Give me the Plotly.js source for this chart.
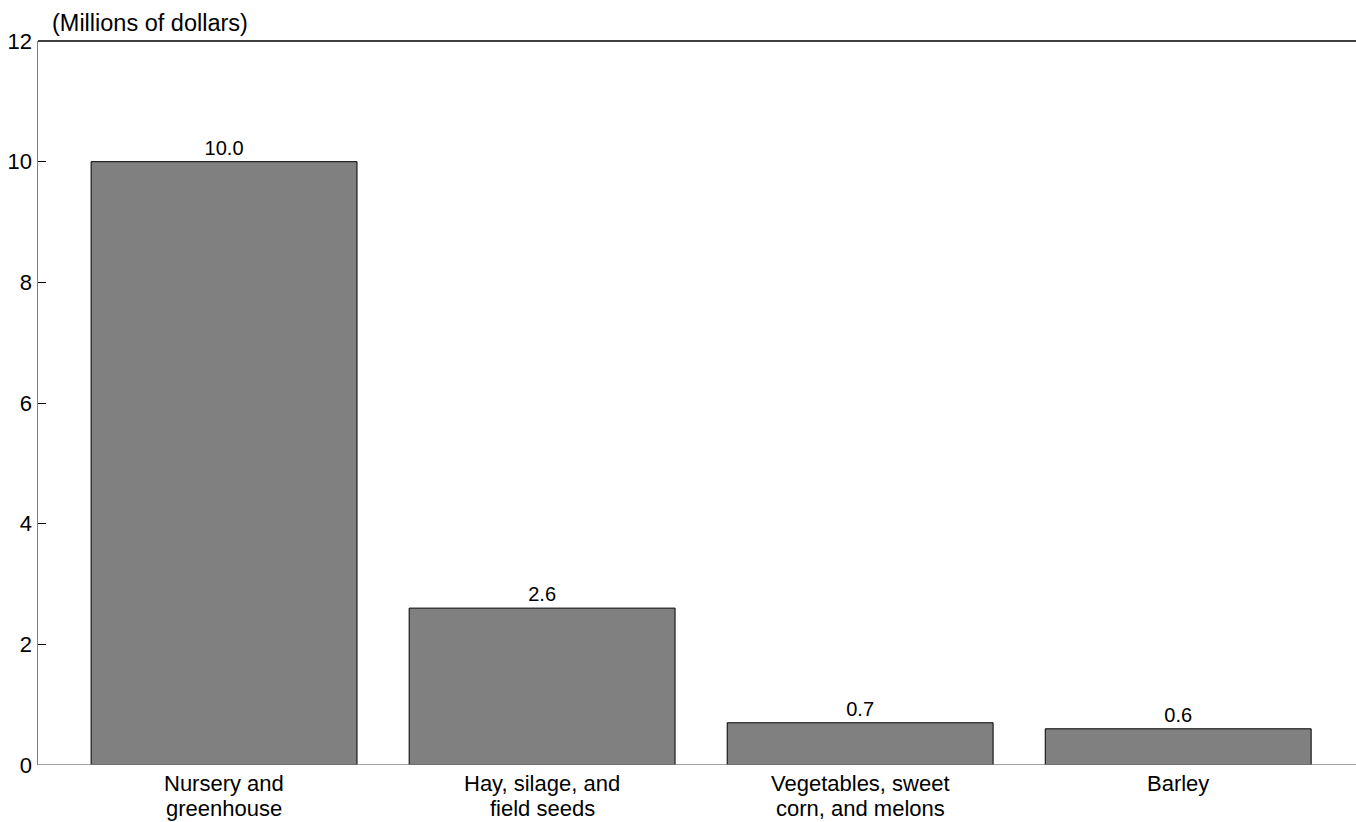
<!DOCTYPE html>
<html>
<head>
<meta charset="utf-8">
<script src="https://cdn.plot.ly/plotly-3.0.1.min.js"></script>
<style>html,body{margin:0;padding:0;background:#fff;}#chart{width:1356px;height:822px;}</style>
</head>
<body>
<div id="chart"></div>
<script>
const categories = ["Nursery and<br>greenhouse", "Hay, silage, and<br>field seeds", "Vegetables, sweet<br>corn, and melons", "Barley"];
const values = [10.0, 2.6, 0.7, 0.6];
const valueLabels = ["10.0", "2.6", "0.7", "0.6"];
const yTicks = [0, 2, 4, 6, 8, 10, 12];

const positions = categories.map((c, i) => i);
const FONT = "Liberation Sans, Arial, sans-serif";

const trace = {
  type: "bar",
  x: positions,
  y: values,
  width: 0.836,
  text: valueLabels,
  textposition: "outside",
  cliponaxis: false,
  textfont: {family: FONT, size: 20, color: "#000"},
  marker: {color: "#808080", line: {color: "#000", width: 1}},
  hoverinfo: "skip"
};

const catAnnotations = [];
categories.forEach((c, i) => {
  c.split("<br>").forEach((line, j) => {
    catAnnotations.push({
      text: line, xref: "x", yref: "y", x: positions[i], y: 0,
      xanchor: "center", yanchor: "top", yshift: -4 - j * 25,
      showarrow: false, font: {family: FONT, size: 22, color: "#000"}
    });
  });
});

const layout = {
  width: 1356, height: 822,
  margin: {l: 38, r: 0, t: 41, b: 57},
  paper_bgcolor: "#fff", plot_bgcolor: "#fff",
  showlegend: false,
  font: {family: FONT, size: 22, color: "#000"},
  xaxis: {
    range: [-0.585, 3.559],
    tickvals: positions,
    showticklabels: false,
    showgrid: false, zeroline: false,
    showline: false, ticks: "",
    fixedrange: true
  },
  yaxis: {
    range: [0, 12],
    tickvals: yTicks,
    showgrid: false, zeroline: false,
    showline: true, linecolor: "#808080", linewidth: 1.5,
    ticks: "inside", ticklen: 8, tickcolor: "#000", tickwidth: 1,
    tickfont: {family: FONT, size: 22},
    fixedrange: true
  },
  shapes: [
    {type: "line", xref: "paper", yref: "paper", x0: 0, x1: 1, y0: 1, y1: 1, line: {color: "#000", width: 1.5}},
    {type: "line", xref: "paper", yref: "y", x0: 0, x1: 1, y0: 0, y1: 0, line: {color: "#808080", width: 1.5}}
  ],
  annotations: [
    {text: "(Millions of dollars)", xref: "paper", yref: "paper", x: 0.009, y: 1, xanchor: "left", yanchor: "bottom", yshift: 3, showarrow: false, font: {family: FONT, size: 23.5}}
  ].concat(catAnnotations)
};

Plotly.newPlot("chart", [trace], layout, {displayModeBar: false, staticPlot: true});
</script>
</body>
</html>
